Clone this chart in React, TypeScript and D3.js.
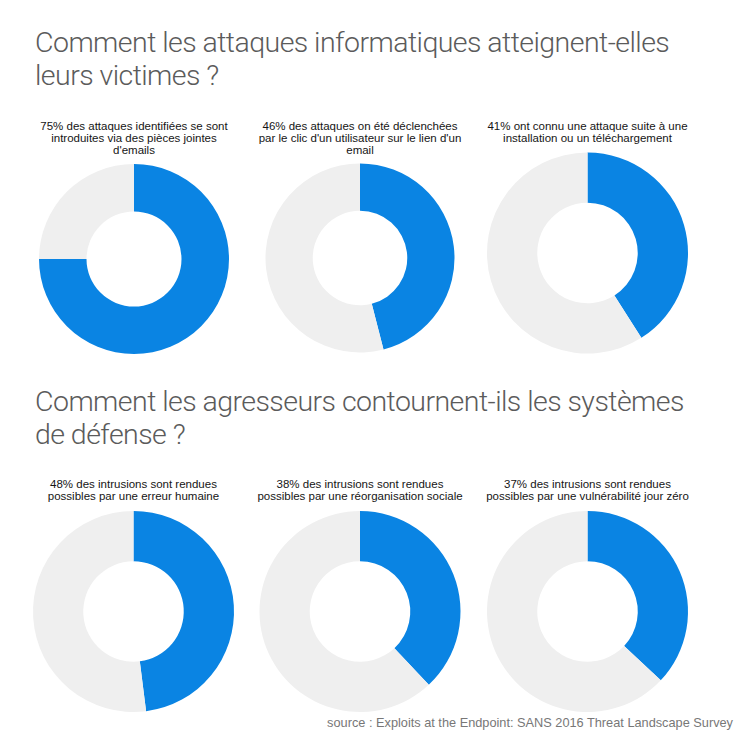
import React from "react";
import * as d3 from "d3";

const titles: string[][] = [
  ["Comment les attaques informatiques atteignent-elles", "leurs victimes ?"],
  ["Comment les agresseurs contournent-ils les systèmes", "de défense ?"],
];

const values: number[] = [75, 46, 41, 48, 38, 37];

const captions: string[][] = [
  ["75% des attaques identifiées se sont", "introduites via des pièces jointes", "d'emails"],
  ["46% des attaques on été déclenchées", "par le clic d'un utilisateur sur le lien d'un", "email"],
  ["41% ont connu une attaque suite à une", "installation ou un téléchargement"],
  ["48% des intrusions sont rendues", "possibles par une erreur humaine"],
  ["38% des intrusions sont rendues", "possibles par une réorganisation sociale"],
  ["37% des intrusions sont rendues", "possibles par une vulnérabilité jour zéro"],
];

const source = "source : Exploits at the Endpoint: SANS 2016 Threat Landscape Survey";

// layout (not data)
const layout = [
  { cx: 134, cy: 259, r: 95, capY: 130 },
  { cx: 360, cy: 258, r: 94.5, capY: 130 },
  { cx: 587.5, cy: 253, r: 100.5, capY: 130 },
  { cx: 133.5, cy: 611.5, r: 100.5, capY: 487.5 },
  { cx: 360, cy: 611.5, r: 100.5, capY: 487.5 },
  { cx: 587.5, cy: 611.5, r: 100.5, capY: 487.5 },
];
const titleLayout = [
  { x: 35, y: 52 },
  { x: 35, y: 411 },
];

const BLUE = "#0a84e3";
const GREY = "#efefef";

export default function App() {
  const pie = d3.pie<number>().sort(null).value((d) => d);
  return (
    <svg
      width={736}
      height={736}
      style={{ position: "absolute", left: 0, top: 0, background: "#fff" }}
    >
      <rect width={736} height={736} fill="#fff" />
      {titles.map((lines, i) => (
        <text
          key={"t" + i}
          x={titleLayout[i].x}
          y={titleLayout[i].y}
          fontFamily="Roboto, 'Liberation Sans', sans-serif"
          fontWeight={300}
          fontSize={28.5}
          letterSpacing={-0.55}
          fill="#5b5b5b"
        >
          {lines.map((l, j) => (
            <tspan key={j} x={titleLayout[i].x} dy={j === 0 ? 0 : 33}>
              {l}
            </tspan>
          ))}
        </text>
      ))}
      {values.map((v, i) => {
        const L = layout[i];
        const arcs = pie([v, 100 - v]);
        const arc = d3
          .arc<d3.PieArcDatum<number>>()
          .innerRadius(L.r * 0.5)
          .outerRadius(L.r);
        return (
          <g key={"d" + i}>
            <text
              x={L.cx}
              y={L.capY}
              textAnchor="middle"
              fontFamily="'Liberation Sans', Arial, sans-serif"
              fontSize={11.5}
              fill="#151515"
            >
              {captions[i].map((l, j) => (
                <tspan key={j} x={L.cx} dy={j === 0 ? 0 : 12.2}>
                  {l}
                </tspan>
              ))}
            </text>
            <g transform={`translate(${L.cx},${L.cy})`}>
              {arcs.map((a, k) => (
                <path key={k} d={arc(a) || ""} fill={k === 0 ? BLUE : GREY} />
              ))}
            </g>
          </g>
        );
      })}
      <text
        x={733}
        y={727}
        textAnchor="end"
        fontFamily="'Liberation Sans', Arial, sans-serif"
        fontSize={12.75}
        fill="#777"
      >
        {source}
      </text>
    </svg>
  );
}
